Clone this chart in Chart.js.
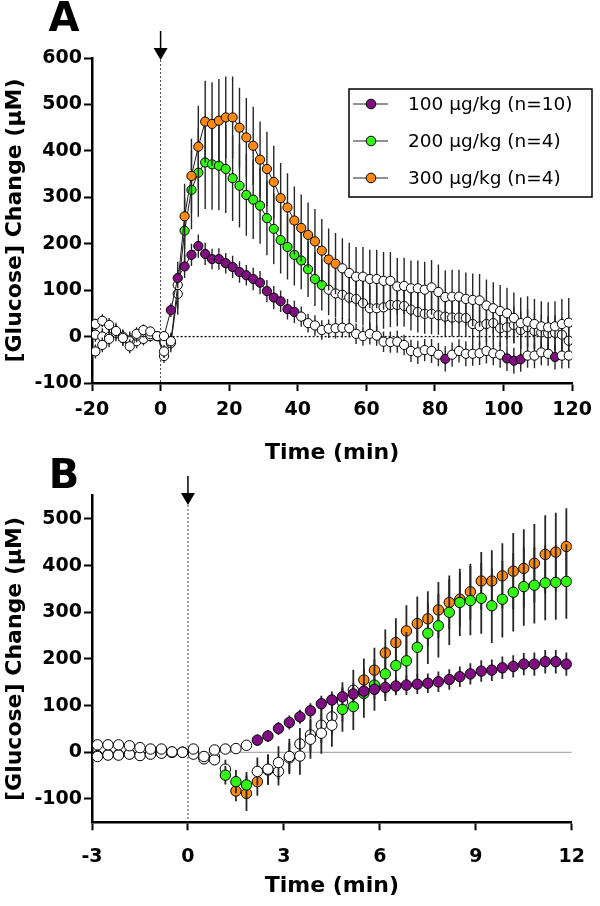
<!DOCTYPE html>
<html>
<head>
<meta charset="utf-8">
<script src="https://cdn.jsdelivr.net/npm/chart.js@4.4.1/dist/chart.umd.min.js"></script>
<style>
  html, body { margin: 0; padding: 0; background: #fff; }
  #wrap { position: relative; width: 600px; height: 906px; }
  #chartA { position: absolute; left: 0; top: 0; }
  #chartB { position: absolute; left: 0; top: 450px; }
</style>
</head>
<body>
<div id="wrap">
  <canvas id="chartA" width="600" height="470"></canvas>
  <canvas id="chartB" width="600" height="456"></canvas>
</div>
<script>
var FONT = "'DejaVu Sans', sans-serif";

var seriesLabels = ['100 µg/kg (n=10)', '200 µg/kg (n=4)', '300 µg/kg (n=4)'];
var seriesColors = ['#7f0f80', '#33f514', '#ff8a12'];

// ---- Panel A: 2-min samples ----
var timeA = [-19, -17, -15, -13, -11, -9, -7, -5, -3, -1,
  1, 3, 5, 7, 9, 11, 13, 15, 17, 19, 21, 23, 25, 27, 29, 31, 33, 35, 37, 39,
  41, 43, 45, 47, 49, 51, 53, 55, 57, 59, 61, 63, 65, 67, 69, 71, 73, 75, 77, 79,
  81, 83, 85, 87, 89, 91, 93, 95, 97, 99, 101, 103, 105, 107, 109, 111, 113, 115, 117, 119];

var glucoseA100 = [27, 34, 25, 12, -3, -21, 6, 14, 11, 1,
  1, 57, 126, 151, 176, 195, 178, 167, 167, 158, 150, 139, 132, 124, 116, 98, 84, 76, 59, 53,
  43, 29, 24, 14, 17, 18, 19, 18, 6, 1, 6, 2, -11, -12, -11, -18, -31, -34, -29, -31,
  -39, -48, -39, -31, -37, -37, -36, -31, -36, -39, -47, -52, -49, -41, -41, -34, -37, -44, -41, -41];
var semA100 = [12, 14, 15, 14, 16, 15, 14, 12, 10, 8,
  10, 15, 22, 25, 24, 25, 24, 22, 23, 22, 24, 23, 22, 24, 25, 24, 25, 23, 22, 24,
  22, 20, 22, 21, 20, 22, 21, 20, 22, 21, 23, 22, 22, 23, 24, 22, 24, 25, 24, 26,
  25, 27, 26, 25, 27, 26, 25, 27, 26, 28, 27, 28, 27, 26, 27, 28, 26, 27, 28, 27];
var sigA100 = [3, 5, 7, 9, 11, 13, 15, 17, 19, 21, 23, 25, 27, 29, 31, 33, 35, 37, 39, 83, 101, 103, 105, 115];

var glucoseA200 = [4, 0, -1, 10, -3, -8, -10, -5, 1, 1,
  -42, -14, 92, 228, 316, 353, 375, 371, 368, 361, 341, 325, 305, 295, 282, 255, 232, 208, 193, 176,
  164, 145, 124, 111, 101, 93, 90, 84, 81, 72, 61, 61, 63, 68, 68, 66, 58, 53, 49, 49,
  46, 43, 41, 41, 40, 27, 22, 27, 29, 18, 20, 25, 14, 20, 12, 9, 7, 8, 4, -9];
var semA200 = [15, 18, 16, 20, 17, 19, 15, 14, 12, 10,
  15, 20, 45, 70, 85, 95, 100, 98, 96, 95, 92, 90, 88, 85, 82, 80, 76, 72, 70, 66,
  62, 60, 58, 55, 55, 52, 52, 50, 50, 48, 48, 47, 46, 48, 46, 45, 45, 44, 43, 44,
  42, 42, 41, 42, 40, 40, 41, 39, 40, 40, 39, 38, 40, 39, 38, 38, 37, 38, 37, 38];
var sigA200 = [7, 9, 11, 13, 15, 17, 19, 21, 23, 25, 27, 29, 31, 33, 35, 37, 39, 41, 43, 45, 47];

var glucoseA300 = [-32, -18, -5, 8, 0, -10, 2, 10, 5, 1,
  -32, -10, 111, 259, 346, 409, 463, 458, 465, 472, 472, 450, 429, 411, 381, 361, 333, 298, 278, 250,
  234, 219, 205, 185, 166, 157, 147, 137, 129, 129, 124, 124, 120, 120, 108, 109, 104, 104, 101, 106,
  96, 85, 86, 86, 81, 79, 78, 67, 61, 55, 50, 40, 29, 32, 27, 22, 20, 22, 27, 30];
var semA300 = [15, 16, 18, 14, 15, 17, 14, 12, 10, 9,
  14, 18, 50, 70, 80, 88, 88, 90, 90, 88, 88, 86, 85, 84, 82, 80, 78, 76, 74, 73,
  72, 70, 70, 68, 67, 66, 65, 65, 64, 64, 63, 63, 62, 62, 61, 61, 60, 60, 60, 59,
  59, 58, 58, 58, 57, 57, 57, 56, 56, 56, 55, 55, 55, 55, 54, 54, 54, 54, 54, 53];
var sigA300 = [7, 9, 11, 13, 15, 17, 19, 21, 23, 25, 27, 29, 31, 33, 35, 37, 39, 41, 43, 45, 47, 49, 51];

var xTicksA = [-20, 0, 20, 40, 60, 80, 100, 120];
var yTicksA = [-100, 0, 100, 200, 300, 400, 500, 600];

// ---- Panel B: 20-s samples ----
var timeB = [-2.83, -2.5, -2.17, -1.83, -1.5, -1.17, -0.83, -0.5, -0.17,
  0.17, 0.5, 0.83, 1.17, 1.5, 1.83, 2.17, 2.5, 2.83, 3.17, 3.5, 3.83, 4.17, 4.5, 4.83,
  5.17, 5.5, 5.83, 6.17, 6.5, 6.83, 7.17, 7.5, 7.83, 8.17, 8.5, 8.83, 9.17, 9.5, 9.83,
  10.17, 10.5, 10.83, 11.17, 11.5, 11.83];

var glucoseB100 = [16, 16, 16, 14, 10, 7, 7, 1, 0,
  7, -9, 5, 7, 8, 15, 26, 35, 51, 64, 76, 89, 104, 112, 119,
  125, 131, 135, 139, 142, 144, 146, 148, 151, 156, 162, 168, 174, 176, 181,
  184, 189, 189, 194, 194, 189];
var semB100 = [6, 6, 5, 6, 5, 5, 4, 3, 2,
  5, 8, 7, 8, 9, 10, 12, 13, 14, 15, 15, 16, 17, 18, 18,
  19, 19, 20, 20, 20, 21, 21, 21, 22, 22, 22, 23, 23, 23, 24,
  24, 24, 25, 25, 25, 25];
var sigB100 = [2.17, 2.5, 2.83, 3.17, 3.5, 3.83, 4.17, 4.5, 4.83, 5.17, 5.5, 5.83, 6.17, 6.5, 6.83,
  7.17, 7.5, 7.83, 8.17, 8.5, 8.83, 9.17, 9.5, 9.83, 10.17, 10.5, 10.83, 11.17, 11.5, 11.83];

var glucoseB200 = [-9, -6, -6, -4, -7, -4, -2, 0, 0,
  -4, -14, -16, -49, -63, -70, -41, -36, -22, -9, -8, 28, 41, 58, 92,
  98, 126, 144, 168, 186, 196, 225, 255, 271, 300, 321, 325, 330, 314, 328,
  343, 355, 358, 363, 364, 366];
var semB200 = [6, 5, 6, 5, 6, 5, 4, 3, 2,
  6, 10, 12, 20, 25, 28, 30, 32, 35, 38, 40, 42, 44, 46, 48,
  50, 52, 55, 58, 60, 62, 64, 66, 68, 70, 72, 74, 76, 80, 82,
  84, 84, 82, 80, 80, 80];
var sigB200 = [1.17, 1.5, 1.83, 4.83, 5.17, 5.5, 5.83, 6.17, 6.5, 6.83, 7.17, 7.5, 7.83, 8.17, 8.5,
  8.83, 9.17, 9.5, 9.83, 10.17, 10.5, 10.83, 11.17, 11.5, 11.83];

var glucoseB300 = [-7, -5, -5, -3, -6, -3, -1, 0, 0,
  0, -12, -10, -36, -83, -88, -63, -38, -41, -12, 18, 37, 58, 76, 108,
  133, 155, 176, 213, 235, 260, 276, 286, 305, 321, 328, 344, 367, 367, 378,
  388, 394, 405, 424, 429, 441];
var semB300 = [5, 5, 5, 4, 5, 4, 4, 3, 2,
  6, 10, 14, 20, 22, 38, 30, 32, 30, 32, 34, 36, 38, 40, 42,
  44, 46, 48, 50, 52, 55, 58, 59, 60, 58, 58, 60, 62, 66, 70,
  82, 84, 84, 84, 84, 82];
var sigB300 = [1.5, 1.83, 2.17, 5.5, 5.83, 6.17, 6.5, 6.83, 7.17, 7.5, 7.83, 8.17, 8.5, 8.83,
  9.17, 9.5, 9.83, 10.17, 10.5, 10.83, 11.17, 11.5, 11.83];

var xTicksB = [-3, 0, 3, 6, 9, 12];
var yTicksB = [-100, 0, 100, 200, 300, 400, 500];

// vertical SEM bars, drawn just before each dataset's own points
var errorBars = {
    id: 'errorBars',
    beforeDatasetDraw: function(chart, args, opts) {
        var ds = chart.data.datasets[args.index];
        var ys = chart.scales.y;
        var ctx = chart.ctx;
        ctx.save();
        ctx.strokeStyle = '#262626';
        ctx.lineWidth = opts.width;
        ctx.beginPath();
        args.meta.data.forEach(function(pt, i) {
            var v = ds.data[i].y;
            var e = ds.errors[i];
            ctx.moveTo(pt.x, ys.getPixelForValue(v - e));
            ctx.lineTo(pt.x, ys.getPixelForValue(v + e));
        });
        ctx.stroke();
        ctx.restore();
    }
};

// zero line, injection marker, panel letter and legend
var panelDecor = {
    id: 'panelDecor',
    beforeDatasetsDraw: function(chart, args, opts) {
        var ctx = chart.ctx;
        var area = chart.chartArea;
        var x0 = chart.scales.x.getPixelForValue(0);
        var y0 = chart.scales.y.getPixelForValue(0);
        ctx.save();
        ctx.beginPath();
        ctx.strokeStyle = opts.zeroColor;
        ctx.lineWidth = opts.zeroWidth;
        ctx.setLineDash(opts.zeroDash);
        ctx.moveTo(x0, y0);
        ctx.lineTo(area.right, y0);
        ctx.stroke();

        ctx.beginPath();
        ctx.strokeStyle = '#444';
        ctx.lineWidth = 1;
        ctx.setLineDash([2, 2]);
        ctx.moveTo(x0, opts.arrowTip);
        ctx.lineTo(x0, area.bottom);
        ctx.stroke();
        ctx.restore();
    },
    afterDraw: function(chart, args, opts) {
        var ctx = chart.ctx;
        var x0 = chart.scales.x.getPixelForValue(0);
        ctx.save();
        // arrow
        ctx.strokeStyle = '#000';
        ctx.fillStyle = '#000';
        ctx.lineWidth = 1.5;
        ctx.beginPath();
        ctx.moveTo(x0, opts.arrowTip - 29);
        ctx.lineTo(x0, opts.arrowTip - 10);
        ctx.stroke();
        ctx.beginPath();
        ctx.moveTo(x0 - 7, opts.arrowTip - 12);
        ctx.lineTo(x0 + 7, opts.arrowTip - 12);
        ctx.lineTo(x0, opts.arrowTip);
        ctx.closePath();
        ctx.fill();

        // panel letter
        ctx.font = 'bold 40px ' + FONT;
        ctx.textAlign = 'center';
        ctx.textBaseline = 'alphabetic';
        ctx.fillText(opts.letter, 64, opts.letterBase);

        if (opts.legend) {
            var L = opts.legend;
            ctx.lineWidth = 1.5;
            ctx.strokeRect(L.left, L.top, L.width, L.height);
            ctx.font = '18.5px ' + FONT;
            ctx.textAlign = 'left';
            ctx.textBaseline = 'middle';
            chart.data.datasets.slice().sort(function(a, b) {
                return a.legendRank - b.legendRank;
            }).forEach(function(ds, i) {
                var cy = L.top + 15 + i * 37;
                ctx.beginPath();
                ctx.strokeStyle = '#222';
                ctx.lineWidth = 1;
                ctx.moveTo(L.left + 4, cy);
                ctx.lineTo(L.left + 39, cy);
                ctx.stroke();
                ctx.beginPath();
                ctx.arc(L.left + 22, cy, 4.8, 0, Math.PI * 2);
                ctx.fillStyle = ds.seriesColor;
                ctx.fill();
                ctx.strokeStyle = '#000';
                ctx.stroke();
                ctx.fillStyle = '#000';
                ctx.fillText(ds.label, L.left + 59, cy + 1);
            });
        }
        ctx.restore();
    }
};

function buildDataset(idx, times, values, errors, sigTimes, radius, order, showLine) {
    return {
        label: seriesLabels[idx],
        legendRank: idx,
        seriesColor: seriesColors[idx],
        data: times.map(function(t, i) { return {x: t, y: values[i]}; }),
        errors: errors,
        pointBackgroundColor: times.map(function(t) {
            return sigTimes.indexOf(t) >= 0 ? seriesColors[idx] : '#ffffff';
        }),
        pointBorderColor: '#000',
        pointBorderWidth: 1,
        pointRadius: radius,
        showLine: showLine,
        borderColor: '#1a1a1a',
        borderWidth: 1,
        order: order
    };
}

function axis(min, max, tickValues, title, fitSize, isX, tickPad, titlePad) {
    return {
        type: 'linear',
        min: min,
        max: max,
        afterBuildTicks: function(scale) {
            scale.ticks = tickValues.map(function(v) { return {value: v}; });
        },
        afterFit: function(scale) {
            if (isX) {
                scale.height = fitSize;
            } else {
                scale.width = fitSize;
            }
        },
        ticks: {
            color: '#000',
            padding: tickPad,
            font: {family: FONT, size: 19, weight: 'bold'}
        },
        grid: {
            drawOnChartArea: false,
            drawTicks: true,
            tickLength: 8,
            tickWidth: 2,
            tickColor: '#000',
            color: '#000'
        },
        border: {display: true, color: '#000', width: 2.5},
        title: {
            display: true,
            text: title,
            color: '#000',
            padding: titlePad,
            font: {family: FONT, size: 22, weight: 'bold'}
        }
    };
}

new Chart(document.getElementById('chartA').getContext('2d'), {
    type: 'scatter',
    data: {
        datasets: [
            buildDataset(0, timeA, glucoseA100, semA100, sigA100, 4.6, 1, true),
            buildDataset(1, timeA, glucoseA200, semA200, sigA200, 4.6, 3, true),
            buildDataset(2, timeA, glucoseA300, semA300, sigA300, 4.6, 2, true)
        ]
    },
    options: {
        responsive: false,
        animation: false,
        layout: {padding: {top: 58, right: 21, left: 0, bottom: 0}},
        scales: {
            x: axis(-20, 120, xTicksA, 'Time (min)', 87, true, 8, {top: 0, bottom: 4}),
            y: axis(-100, 600, yTicksA, '[Glucose] Change (µM)', 92, false, 2, {top: 2, bottom: 0})
        },
        plugins: {
            legend: {display: false},
            tooltip: {enabled: false},
            errorBars: {width: 1.4},
            panelDecor: {
                zeroColor: '#000', zeroWidth: 1.3, zeroDash: [2, 2],
                arrowTip: 60, letter: 'A', letterBase: 31,
                legend: {left: 349, top: 89, width: 243, height: 108}
            }
        }
    },
    plugins: [errorBars, panelDecor]
});

new Chart(document.getElementById('chartB').getContext('2d'), {
    type: 'scatter',
    data: {
        datasets: [
            buildDataset(0, timeB, glucoseB100, semB100, sigB100, 5.2, 1, false),
            buildDataset(1, timeB, glucoseB200, semB200, sigB200, 5.2, 2, false),
            buildDataset(2, timeB, glucoseB300, semB300, sigB300, 5.2, 3, false)
        ]
    },
    options: {
        responsive: false,
        animation: false,
        layout: {padding: {top: 45.6, right: 21, left: 0, bottom: 0}},
        scales: {
            x: axis(-3, 12, xTicksB, 'Time (min)', 83.7, true, 15, {top: 0, bottom: 7}),
            y: axis(-150, 550, yTicksB, '[Glucose] Change (µM)', 92, false, 2, {top: 2, bottom: 0})
        },
        plugins: {
            legend: {display: false},
            tooltip: {enabled: false},
            errorBars: {width: 1.8},
            panelDecor: {
                zeroColor: '#9a9a9a', zeroWidth: 1, zeroDash: [],
                arrowTip: 55, letter: 'B', letterBase: 38,
                legend: null
            }
        }
    },
    plugins: [errorBars, panelDecor]
});
</script>
</body>
</html>
